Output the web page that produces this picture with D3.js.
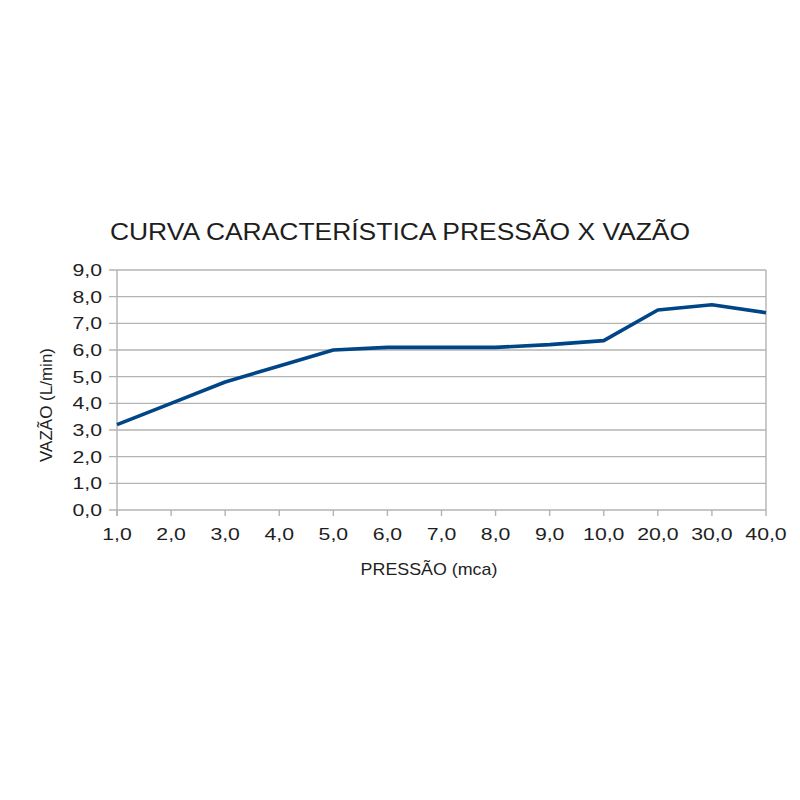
<!DOCTYPE html>
<html><head><meta charset="utf-8">
<script src="https://cdn.jsdelivr.net/npm/d3@7"></script>
<style>body{margin:0;background:#fff}</style>
</head><body>
<svg id="c" width="800" height="800"></svg>
<script>
const categories = ["1,0","2,0","3,0","4,0","5,0","6,0","7,0","8,0","9,0","10,0","20,0","30,0","40,0"];
const vazao = [3.2, 4.0, 4.8, 5.4, 6.0, 6.1, 6.1, 6.1, 6.2, 6.35, 7.5, 7.7, 7.4];
const yTicks = [0,1,2,3,4,5,6,7,8,9];
const title = "CURVA CARACTERÍSTICA PRESSÃO X VAZÃO";
const xTitle = "PRESSÃO (mca)";
const yTitle = "VAZÃO (L/min)";

const svg = d3.select("#c");
const L = 117, R = 766, T = 270, B = 510;
const x = d3.scalePoint().domain(categories).range([L, R]);
const y = d3.scaleLinear().domain([0, 9]).range([B, T]);
const grid = "#b3b3b3";
const font = "'Liberation Sans', Arial, sans-serif";
const ink = "#1e1e1e";

// gridlines
svg.append("g").selectAll("line").data(yTicks).join("line")
  .attr("x1", L - 8).attr("x2", R).attr("y1", d => y(d)).attr("y2", d => y(d))
  .attr("stroke", grid).attr("stroke-width", 1.4);
// right border
svg.append("line").attr("x1", R).attr("x2", R).attr("y1", T).attr("y2", B)
  .attr("stroke", grid).attr("stroke-width", 1.4);
// left axis line
svg.append("line").attr("x1", L).attr("x2", L).attr("y1", T).attr("y2", B + 6)
  .attr("stroke", grid).attr("stroke-width", 1.4);
// x ticks
svg.append("g").selectAll("line").data(categories).join("line")
  .attr("x1", d => x(d)).attr("x2", d => x(d)).attr("y1", B).attr("y2", B + 6)
  .attr("stroke", grid).attr("stroke-width", 1.4);

// y tick labels
svg.append("g").selectAll("text").data(yTicks).join("text")
  .attr("transform", d => `translate(${L - 15},${y(d) + 6}) scale(1.25,1)`)
  .attr("text-anchor", "end").attr("font-family", font).attr("font-size", 17)
  .attr("fill", ink).text(d => d3.format(".1f")(d).replace(".", ","));
// x tick labels
svg.append("g").selectAll("text").data(categories).join("text")
  .attr("transform", d => `translate(${x(d)},${B + 30}) scale(1.25,1)`)
  .attr("text-anchor", "middle").attr("font-family", font).attr("font-size", 17)
  .attr("fill", ink).text(d => d);

// line
svg.append("path").datum(vazao)
  .attr("fill", "none").attr("stroke", "#004586").attr("stroke-width", 3.6)
  .attr("stroke-linejoin", "round")
  .attr("d", d3.line().x((d, i) => x(categories[i])).y(d => y(d)));

// titles
svg.append("text").attr("transform", "translate(400,239.5) scale(1.15,1)").attr("text-anchor", "middle")
  .attr("font-family", font).attr("font-size", 23).attr("fill", ink).text(title);
svg.append("text").attr("transform", "translate(429,575) scale(1.05,1)").attr("text-anchor", "middle")
  .attr("font-family", font).attr("font-size", 17).attr("fill", ink).text(xTitle);
svg.append("text").attr("transform", "translate(51.5,405) rotate(-90)").attr("text-anchor", "middle")
  .attr("font-family", font).attr("font-size", 17).attr("fill", ink).text(yTitle);
</script>
</body></html>
